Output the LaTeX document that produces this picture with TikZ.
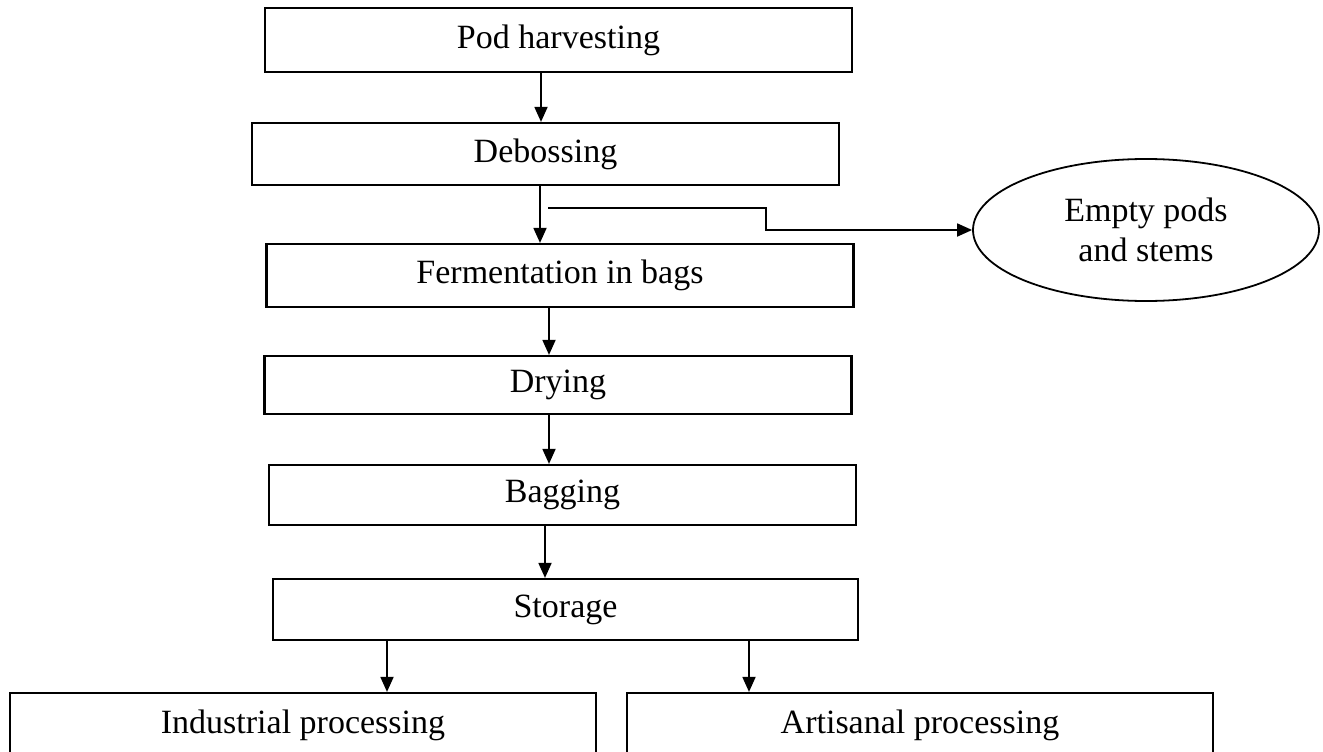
\documentclass[tikz,border=0pt]{standalone}
\usepackage{fontspec}
\setmainfont{Liberation Serif}
\usetikzlibrary{arrows.meta,shapes.geometric}
\begin{document}
\begin{tikzpicture}[x=1pt,y=-1pt,
    stage/.style={draw,line width=2.2pt,minimum width=587pt,minimum height=62pt,
      inner sep=0pt,font=\fontsize{34}{40}\selectfont},
    flow/.style={line width=1.8pt,-{Triangle[length=15pt,width=13pt]}}]
  \useasboundingbox (0,0) rectangle (1323,752);
  \clip (0,0) rectangle (1323,752);
  % process stages
  \node[stage,minimum height=64pt] (pod) at (558.5,40) {Pod harvesting};
  \node[stage] (deb) at (545.5,154) {Debossing};
  \node[stage,minimum height=63pt] (fer) at (560,275.5) {Fermentation in bags};
  \node[stage,minimum height=58pt] (dry) at (558,385) {Drying};
  \node[stage,minimum height=60pt] (bag) at (562.5,495) {Bagging};
  \node[stage,minimum width=585pt,minimum height=61pt] (sto) at (565.5,609.5) {Storage};
  \node[stage,minimum width=586pt,minimum height=64pt] (ind) at (303,725) {Industrial processing};
  \node[stage,minimum width=586pt,minimum height=64pt] (art) at (920,725) {Artisanal processing};
  \node[draw,ellipse,line width=1.8pt,minimum width=346pt,minimum height=142pt,inner sep=0pt,
    align=center,font=\fontsize{34}{40}\selectfont] (pods) at (1146,230) {Empty pods\\and stems};
  % arrows
  \draw[flow] ([xshift=-4.5pt]deb.north |- pod.south) -- ([xshift=-4.5pt]deb.north);
  \draw[flow] ([xshift=-5.5pt]deb.south) -- ([xshift=-5.5pt]deb.south |- fer.north);
  \draw[flow] ([xshift=-11pt]fer.south) -- ([xshift=-11pt]fer.south |- dry.north);
  \draw[flow] ([xshift=-9pt]dry.south) -- ([xshift=-9pt]dry.south |- bag.north);
  \draw[flow] ([xshift=-17.5pt]bag.south) -- ([xshift=-17.5pt]bag.south |- sto.north);
  \draw[flow] ([xshift=84pt]ind.north |- sto.south) -- ([xshift=84pt]ind.north);
  \draw[flow] ([xshift=-171pt]art.north |- sto.south) -- ([xshift=-171pt]art.north);
  % side output
  \coordinate (cut) at (548,208);
  \draw[flow] (cut) -- (766,208) |- (pods.west);
\end{tikzpicture}
\end{document}
